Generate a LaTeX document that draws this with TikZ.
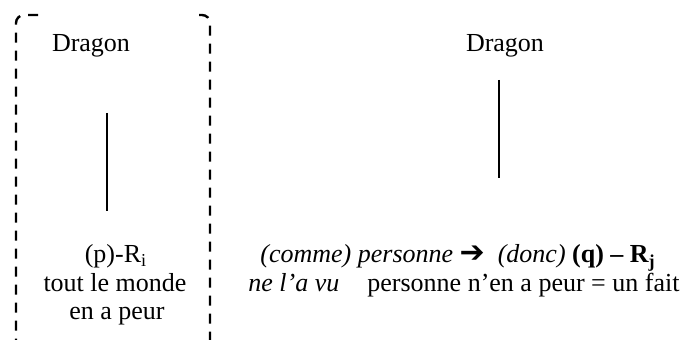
\documentclass[tikz,border=0pt]{standalone}
\usepackage{fontspec}
\setmainfont{Liberation Serif}
\newfontfamily\symfont{DejaVu Sans}
\tikzstyle{txt}=[inner sep=0pt,anchor=base,font=\fontsize{13}{15}\selectfont]
\tikzstyle{ltxt}=[txt,anchor=base west]
\tikzstyle{bar}=[line width=1pt]
\tikzstyle{frame}=[line width=1.2pt,dash pattern=on 5pt off 4pt,rounded corners=4pt]

\begin{document}
\begin{tikzpicture}[x=0.5pt,y=-0.5pt]
\useasboundingbox (0,0) rectangle (690,340);
% left box
\node[txt] (D1) at (91,52) {Dragon};
\node[txt] (P) at (116,263) {(p)-R\textsubscript{i}};
\node[txt] (T) at (115,292) {tout le monde};
\node[txt] (E) at (117,320) {en a peur};
\coordinate (a1) at (107,113);\coordinate (a2) at (107,211);
\draw[bar](a1)--(a2);
\draw[frame](38,15)--(16,15)--(16,340);
\draw[frame](199,15)--(210,15)--(210,340);
% right side
\node[txt] (D2) at (505,52) {Dragon};
\coordinate (b1) at (499,80);\coordinate (b2) at (499,178);
\draw[bar](b1)--(b2);
\node[ltxt] (Q) at (260,263) {\textit{(comme) personne} {\symfont\bfseries\fontsize{15}{15}\selectfont ➔}\ \ \textit{(donc)} \textbf{(q) – R\textsubscript{j}}};
\node[ltxt] (N) at (248,292) {\textit{ne l’a vu}};
\node[ltxt] (F) at (367,292) {personne n’en a peur = un fait};
\end{tikzpicture}
\end{document}
